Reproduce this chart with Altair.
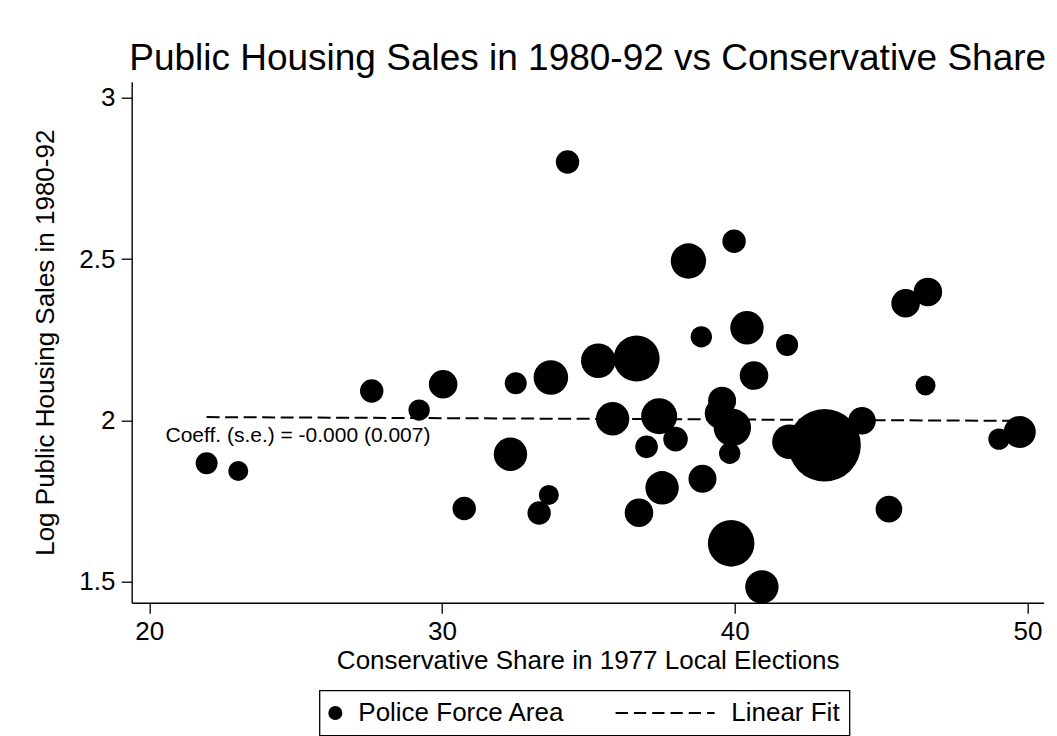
import altair as alt
import pandas as pd

# one value per police force area
share_1977 = [21.96, 23.04, 27.60, 29.22, 30.04, 30.76, 32.34, 32.52, 33.32, 33.65,
              33.72, 34.29, 35.34, 35.83, 36.65, 36.73, 36.99, 37.42, 37.52, 37.98,
              38.42, 38.86, 38.90, 39.49, 39.57, 39.83, 39.88, 39.92, 39.98, 40.42,
              40.66, 40.93, 41.79, 41.87, 43.07, 44.35, 45.27, 45.84, 46.52, 46.60,
              49.03, 49.74]
log_sales = [1.867, 1.843, 2.091, 2.032, 2.112, 1.727, 1.895, 2.115, 1.713, 1.769,
             2.133, 2.801, 2.185, 2.005, 2.192, 1.714, 1.918, 2.013, 1.791, 1.942,
             2.494, 2.259, 1.819, 2.022, 2.061, 1.898, 1.619, 1.978, 2.555, 2.287,
             2.139, 1.484, 2.234, 1.934, 1.923, 1.999, 1.725, 2.363, 2.108, 2.398,
             1.942, 1.964]
# relative weight of each area (marker area is proportional to it)
weight = [121, 100, 137, 114, 204, 137, 279, 121, 137, 100,
          299, 137, 299, 279, 529, 204, 128, 324, 279, 151,
          313, 114, 196, 225, 196, 114, 543, 350, 137, 279,
          204, 279, 121, 299, 1318, 190, 177, 204, 100, 204,
          114, 256]

fit_share = [21.96, 49.74]
fit_log_sales = [2.0102, 1.9986]

coef_label = ["Coeff. (s.e.) = -0.000 (0.007)"]
coef_share = [25.08]
coef_log_sales = [1.934]

x_ticks = [20, 30, 40, 50]
y_ticks = [1.5, 2, 2.5, 3]
series = ["Police Force Area", "Linear Fit"]

FONT = "Liberation Sans"
W, H = 912, 521
MAXW = max(weight)


def dash_symbol():
    # legend glyph for the dashed fit line, drawn as small filled bars
    # (units of 7px, the scale vega gives a symbol of size 196)
    parts = []
    start, dash, gap, end = -92.7, 12.3, 6.0, 6.3
    pos = start
    while pos < end:
        a, b = pos / 7, min(pos + dash, end) / 7
        parts.append(f"M{a:.3f},-0.143H{b:.3f}V0.143H{a:.3f}Z")
        pos += dash + gap
    return "".join(parts)


pts = pd.DataFrame({"share": share_1977, "sales": log_sales,
                    "weight": weight, "series": series[0]})
fit = pd.DataFrame({"share": fit_share, "sales": fit_log_sales})
note = pd.DataFrame({"share": coef_share, "sales": coef_log_sales, "label": coef_label})

x_enc = alt.X(
    "share:Q",
    scale=alt.Scale(domain=[19.40, 50.557], nice=False, zero=False),
    axis=alt.Axis(
        values=x_ticks, format="d", grid=False, labelFlush=False,
        title="Conservative Share in 1977 Local Elections",
        domainColor="black", domainWidth=1.4,
        tickColor="black", tickWidth=1.3, tickSize=10.5,
        labelFont=FONT, labelFontSize=26, labelColor="black",
        labelBaseline="alphabetic", labelPadding=26.3,
        titleFont=FONT, titleFontSize=26, titleFontWeight="normal", titleColor="black",
        titleBaseline="alphabetic", titleX=W / 2, titleY=65.6,
    ),
)
y_enc = alt.Y(
    "sales:Q",
    scale=alt.Scale(domain=[1.435, 3.0496], nice=False, zero=False),
    axis=alt.Axis(
        values=y_ticks, format=".1~f", grid=False, labelFlush=False,
        title="Log Public Housing Sales in 1980-92",
        domainColor="black", domainWidth=1.4,
        tickColor="black", tickWidth=1.3, tickSize=10.5,
        labelFont=FONT, labelFontSize=26, labelColor="black",
        labelBaseline="middle", labelPadding=6.2,
        titleFont=FONT, titleFontSize=26, titleFontWeight="normal", titleColor="black",
        titleAngle=270, titleBaseline="alphabetic", titleAlign="center",
        titleX=-78, titleY=H / 2,
    ),
)

points = alt.Chart(pts).mark_point(
    filled=True, color="black", opacity=1, strokeWidth=0
).encode(
    x=x_enc,
    y=y_enc,
    size=alt.Size("weight:Q", scale=alt.Scale(domain=[0, MAXW], range=[0, 4 * MAXW]),
                  legend=None),
    shape=alt.Shape(
        "series:N",
        scale=alt.Scale(domain=series, range=["circle", dash_symbol()]),
        legend=alt.Legend(
            title=None, orient="none", legendX=187.8, legendY=608.8,
            direction="horizontal", columns=2, columnPadding=50,
            symbolSize=196, symbolFillColor="black", symbolStrokeWidth=0,
            symbolOpacity=1, symbolOffset=-6.7,
            labelFont=FONT, labelFontSize=26, labelColor="black",
            labelOffset=10, labelLimit=400,
            strokeColor="black", padding=9.5,
        ),
    ),
)

line = alt.Chart(fit).mark_line(
    color="black", strokeWidth=2, strokeDash=[13, 5.5]
).encode(x=x_enc, y=y_enc)

text = alt.Chart(note).mark_text(
    font=FONT, fontSize=21, color="black", align="center", baseline="alphabetic"
).encode(x=x_enc, y=y_enc, text="label:N")

chart = alt.layer(line, points, text).properties(
    width=W,
    height=H,
    title=alt.TitleParams(
        "Public Housing Sales in 1980-92 vs Conservative Share",
        font=FONT, fontSize=37, fontWeight="normal", color="black",
        anchor="middle", baseline="alphabetic", offset=11.7, dy=37, frame="group",
    ),
    autosize=alt.AutoSizeParams(type="none"),
    padding={"left": 123.7, "top": 73.7, "right": 5, "bottom": 137.3},
    background="white",
).configure_view(
    stroke="transparent"
).configure_legend(
    strokeWidth=1.3
)

chart.save("out.html", embed_options={"renderer": "svg", "actions": False})
